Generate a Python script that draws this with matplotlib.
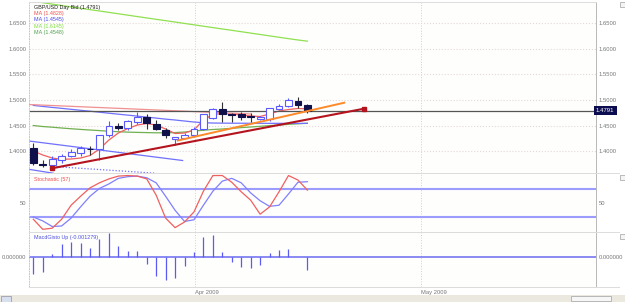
import matplotlib
matplotlib.use('Agg')
import matplotlib.pyplot as plt
from matplotlib.lines import Line2D
from matplotlib.patches import Rectangle

# daily GBP/USD bars
opens = [1.4060, 1.3755, 1.3735, 1.3830, 1.3910, 1.3960, 1.4055, 1.4040, 1.4320, 1.4490,
         1.4450, 1.4580, 1.4675, 1.4527, 1.4416, 1.4235, 1.4255, 1.4320, 1.4435, 1.4645,
         1.4820, 1.4727, 1.4727, 1.4690, 1.4640, 1.4624, 1.4825, 1.4880, 1.4987, 1.4903]
highs = [1.4169, 1.3830, 1.3910, 1.3950, 1.4050, 1.4100, 1.4100, 1.4320, 1.4600, 1.4560,
         1.4610, 1.4770, 1.4735, 1.4610, 1.4460, 1.4280, 1.4350, 1.4470, 1.4725, 1.4835,
         1.4967, 1.4740, 1.4760, 1.4740, 1.4680, 1.4845, 1.4915, 1.5030, 1.5050, 1.4920]
lows = [1.3735, 1.3690, 1.3650, 1.3770, 1.3890, 1.3910, 1.3930, 1.3840, 1.4280, 1.4420,
        1.4420, 1.4530, 1.4435, 1.4410, 1.4270, 1.4120, 1.4250, 1.4290, 1.4425, 1.4625,
        1.4578, 1.4567, 1.4610, 1.4580, 1.4610, 1.4595, 1.4805, 1.4860, 1.4835, 1.4750]
closes = [1.3768, 1.3730, 1.3850, 1.3910, 1.3994, 1.4060, 1.4045, 1.4310, 1.4500, 1.4460,
          1.4590, 1.4675, 1.4547, 1.4436, 1.4320, 1.4275, 1.4320, 1.4435, 1.4720, 1.4825,
          1.4727, 1.4708, 1.4675, 1.4665, 1.4660, 1.4838, 1.4880, 1.5000, 1.4903, 1.4791]

# moving averages
ma_red = [1.4008, 1.3930, 1.3871, 1.3846, 1.3852, 1.3871, 1.3920, 1.4046, 1.4222, 1.4358,
          1.4445, 1.4513, 1.4543, 1.4513, 1.4436, 1.4348, 1.4358, 1.4416, 1.4611, 1.4718,
          1.4737, 1.4728, 1.4708, 1.4689, 1.4679, 1.4728, 1.4786, 1.4815, 1.4835, 1.4828]
ma_blue = [1.4895, 1.4875, 1.4856, 1.4838, 1.4819, 1.4800, 1.4782, 1.4763, 1.4743, 1.4724,
           1.4706, 1.4687, 1.4667, 1.4648, 1.4628, 1.4611, 1.4591, 1.4572, 1.4558, 1.4552,
           1.4550, 1.4549, 1.4548, 1.4548, 1.4547, 1.4546, 1.4546, 1.4545, 1.4545, 1.4545]
ma_lime = [1.6920, 1.6893, 1.6866, 1.6839, 1.6812, 1.6785, 1.6758, 1.6732, 1.6705, 1.6678,
           1.6651, 1.6624, 1.6597, 1.6570, 1.6544, 1.6517, 1.6490, 1.6463, 1.6436, 1.6409,
           1.6382, 1.6356, 1.6329, 1.6302, 1.6275, 1.6248, 1.6221, 1.6194, 1.6168, 1.6145]
ma_green = [1.4504, 1.4484, 1.4471, 1.4455, 1.4441, 1.4428, 1.4416, 1.4405, 1.4393, 1.4383,
            1.4375, 1.4370, 1.4366, 1.4362, 1.4362, 1.4366, 1.4377, 1.4397, 1.4412, 1.4426,
            1.4436, 1.4449, 1.4463, 1.4475, 1.4488, 1.4502, 1.4513, 1.4527, 1.4537, 1.4548]

# stochastic
stoch_k = [21, 3, 5, 21, 46, 62, 77, 86, 93, 98, 99, 98, 93, 64, 23, 6, 16, 34, 71, 99,
           99, 87, 70, 55, 30, 43, 70, 99, 91, 73]
stoch_d = [25, 18, 8, 9, 23, 43, 62, 76, 84, 94, 97, 98, 95, 86, 62, 37, 17, 20, 46, 71,
           89, 94, 86, 68, 54, 44, 46, 66, 87, 88]
stoch_levels = [25, 75]

# macd histogram
macd_hist = [-0.00168, -0.00144, 0.00033, 0.00131, 0.00151, 0.00141, 0.00091, 0.00181,
             0.00249, 0.00114, 0.00063, 0.00063, -0.00070, -0.00184, -0.00229, -0.00204,
             -0.00084, 0.00050, 0.00208, 0.00225, 0.00050, -0.00050, -0.00094, -0.00104,
             -0.00078, 0.00040, 0.00074, 0.00084, 0.0, -0.001279]

price_ticks = [1.40, 1.45, 1.50, 1.55, 1.60, 1.65]
month_labels = ['Apr 2009', 'May 2009']
month_pos = [17.1, 41.0]
last_price = 1.4791

# drawn lines: ((x0, y0), (x1, y1)) in bar index / price
trend_support = ((2.0, 1.3672), (35.0, 1.4831))
trend_orange = ((15.3, 1.4212), (32.9, 1.4947))
trend_red_flat = ((-0.45, 1.4912), (23.0, 1.4728))
channel_top = ((-0.45, 1.4202), (15.8, 1.3823))
channel_low = ((-0.45, 1.3651), (2.1, 1.3576))
channel_dotted = ((2.1, 1.3706), (12.9, 1.3576))

legend_texts = ['GBP/USD Day Bid (1.4791)', 'MA (1.4828)', 'MA (1.4545)',
                'MA (1.6145)', 'MA (1.4548)']
legend_colors = ['#202020', '#f05050', '#4a4af0', '#80e040', '#50a050']

plt.rcParams['font.family'] = ['Liberation Sans', 'DejaVu Sans']

W, H = 625, 302
fig = plt.figure(figsize=(W / 100, H / 100), dpi=100)
fig.patch.set_facecolor('white')


def rect(x0, y0, x1, y1):
    return [x0 / W, 1 - y1 / H, (x1 - x0) / W, (y1 - y0) / H]


ax = fig.add_axes(rect(29, 2, 596, 173.3))
ax_sto = fig.add_axes(rect(29, 173.3, 596, 232), sharex=ax)
ax_macd = fig.add_axes(rect(29, 232, 596, 287), sharex=ax)

xs = list(range(len(closes)))
tick_gray = '#777777'

for a in (ax, ax_sto, ax_macd):
    a.set_facecolor('#fefefc')
    for s in a.spines.values():
        s.set_color('#dcdcdc')
        s.set_linewidth(0.7)
    a.spines['left'].set_linestyle(':')
    a.spines['left'].set_color('#c8c8c8')
    a.spines['right'].set_color('#b8b8b8')
    a.tick_params(length=0, labelsize=4.2, labelcolor=tick_gray,
                  labelleft=True, labelright=True, pad=2)
    a.set_xticks(month_pos)
    a.grid(axis='x', color='#d0d0d0', linestyle=':', linewidth=0.7)
    a.tick_params(axis='x', labelbottom=False)
    a.set_axisbelow(True)

ax.set_xlim(-0.455, 59.54)

# --- main price panel ---
ax.set_ylim(1.3574, 1.6907)
ax.set_yticks(price_ticks)
ax.set_yticklabels([f'{t:.4f}' for t in price_ticks])
ax.grid(axis='y', color='#e4d8d8', linestyle=':', linewidth=0.8)

ax.plot(xs, ma_lime, color='#90e050', lw=0.9, zorder=2)
ax.plot(xs, ma_green, color='#70b050', lw=0.9, zorder=2)
ax.plot(xs, ma_blue, color='#7070ff', lw=0.9, zorder=2)
ax.plot(xs, ma_red, color='#f06060', lw=0.9, zorder=2)

for (x0, y0), (x1, y1) in [trend_red_flat]:
    ax.plot([x0, x1], [y0, y1], color='#f09090', lw=0.9, zorder=2)
for (x0, y0), (x1, y1) in [channel_top, channel_low]:
    ax.plot([x0, x1], [y0, y1], color='#7070ff', lw=0.9, zorder=2)
(x0, y0), (x1, y1) = channel_dotted
ax.plot([x0, x1], [y0, y1], color='#7070ff', lw=0.9, ls=(0, (1, 1.5)), zorder=2)

ax.axhline(last_price, color='#555555', lw=0.9, zorder=2)

(x0, y0), (x1, y1) = trend_orange
ax.plot([x0, x1], [y0, y1], color='#ff8a2a', lw=1.4, zorder=4)
(x0, y0), (x1, y1) = trend_support
ax.plot([x0, x1], [y0, y1], color='#b4141e', lw=1.5, zorder=4,
        marker='s', markersize=2.2, markevery=[0, 1])

bull_edge = '#5a5aff'
bear_face = '#10104a'
for i in xs:
    o, h, l, c = opens[i], highs[i], lows[i], closes[i]
    bull = c >= o
    ax.vlines(i, l, h, color=bull_edge if bull else '#303030', lw=0.8, zorder=3)
    body = max(abs(c - o), 0.0006)
    ax.bar(i, body, bottom=min(o, c), width=0.72,
           facecolor='white' if bull else bear_face,
           edgecolor=bull_edge if bull else bear_face, linewidth=0.8, zorder=3)

# last price tag on the right axis
ax.text(1.0, last_price, f'{last_price:.4f}', transform=ax.get_yaxis_transform(),
        ha='left', va='center', fontsize=4.3, color='white', zorder=6,
        bbox=dict(boxstyle='square,pad=0.35', facecolor='#0c0c50', edgecolor='none'),
        clip_on=False)

for k, (txt, col) in enumerate(zip(legend_texts, legend_colors)):
    ax.text(0.008, 0.985 - k * 0.037, txt, transform=ax.transAxes, fontsize=3.9,
            color=col, ha='left', va='top', zorder=7)

# --- stochastic panel ---
ax_sto.set_ylim(-1.8, 103)
ax_sto.set_yticks([50])
ax_sto.set_yticklabels(['50'])
for lev in stoch_levels:
    ax_sto.axhline(lev, color='#9c9cff', lw=1.5, zorder=2)
ax_sto.plot(xs, stoch_d, color='#8080ff', lw=0.9, zorder=3)
ax_sto.plot(xs, stoch_k, color='#f06060', lw=0.9, zorder=3)
ax_sto.text(0.008, 0.94, 'Stochastic (57)', transform=ax_sto.transAxes, fontsize=3.9,
            color='#f05050', ha='left', va='top')

# --- macd panel ---
ax_macd.set_ylim(-0.00299, 0.00255)
ax_macd.set_yticks([0])
ax_macd.set_yticklabels(['0.000000'])
ax_macd.axhline(0, color='#6a6af0', lw=1.1, zorder=2)
ax_macd.vlines(xs, 0, macd_hist, color='#5a5af5', lw=0.9, zorder=3)
ax_macd.text(0.008, 0.94, 'MacdGisto Up (-0.001279)', transform=ax_macd.transAxes,
             fontsize=3.9, color='#5050e0', ha='left', va='top')

ax_macd.tick_params(axis='x', labelbottom=True, pad=2)
ax_macd.set_xticklabels(month_labels)
for lbl in ax_macd.get_xticklabels():
    lbl.set_horizontalalignment('left')

# panel separators and small window icons on the right
for yy in (173.3, 232, 287):
    fig.add_artist(Line2D([29 / W, 619 / W], [1 - yy / H, 1 - yy / H],
                          color='#dcdcdc', lw=0.7))
for yy in (2, 174.5, 233.5):
    fig.add_artist(Rectangle((619.5 / W, 1 - (yy + 5) / H), 5 / W, 5 / H,
                             facecolor='#f4f4f4', edgecolor='#a0a0a0', lw=0.5))

# status bar at the bottom
fig.add_artist(Rectangle((0, 0), 1, 7 / H, facecolor='#ebe8e0', edgecolor='none'))
fig.add_artist(Rectangle((571 / W, 1 / H), 40 / W, 5 / H, facecolor='#f6f6f6',
                         edgecolor='#a0a0a0', lw=0.5))
fig.add_artist(Rectangle((0.5 / W, 0.5 / H), 10 / W, 6 / H, facecolor='#d8e0f0',
                         edgecolor='#9090a0', lw=0.5))

fig.savefig('out.png', dpi=100)
